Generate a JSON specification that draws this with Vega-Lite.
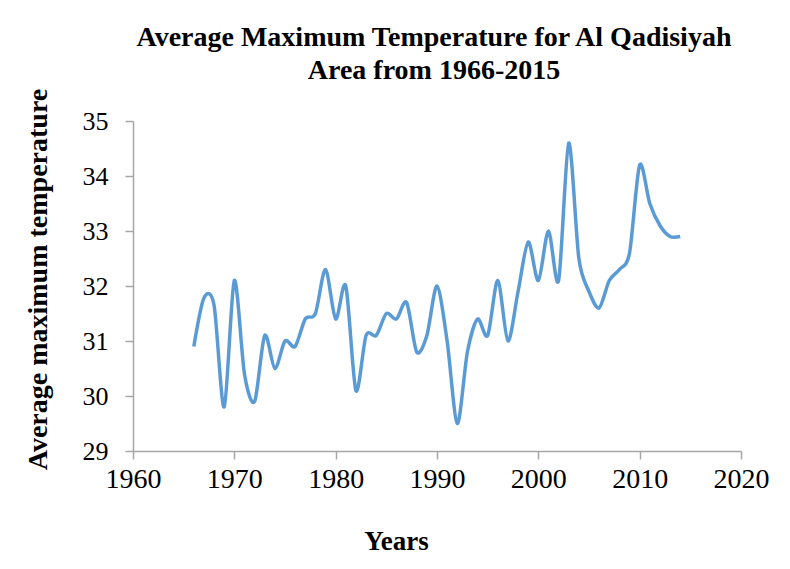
{
  "$schema": "https://vega.github.io/schema/vega-lite/v6.json",
  "width": 608,
  "height": 330,
  "autosize": {"type": "none"},
  "padding": {"left": 133, "top": 121, "right": 49, "bottom": 118},
  "background": "white",
  "title": {
    "text": ["Average Maximum Temperature for Al Qadisiyah", "Area from 1966-2015"],
    "anchor": "middle",
    "frame": "group",
    "font": "Liberation Serif",
    "fontSize": 28,
    "fontWeight": "bold",
    "color": "black",
    "lineHeight": 33,
    "offset": 3,
    "dx": -3
  },
  "config": {
    "view": {"stroke": null},
    "axis": {
      "grid": false,
      "domainColor": "#A6A6A6",
      "tickColor": "#A6A6A6",
      "domainWidth": 1.5,
      "tickWidth": 1.5,
      "tickSize": 8,
      "labelFlush": false,
      "labelColor": "black",
      "labelFont": "Liberation Serif",
      "titleFont": "Liberation Serif",
      "titleFontWeight": "bold",
      "titleColor": "black"
    }
  },
  "data": {
    "values": [
      {"year": 1966, "temp": 30.9},
      {"year": 1967, "temp": 31.78},
      {"year": 1968, "temp": 31.65},
      {"year": 1969, "temp": 29.8},
      {"year": 1970, "temp": 32.1},
      {"year": 1971, "temp": 30.4},
      {"year": 1972, "temp": 29.9},
      {"year": 1973, "temp": 31.1},
      {"year": 1974, "temp": 30.5},
      {"year": 1975, "temp": 31.0},
      {"year": 1976, "temp": 30.9},
      {"year": 1977, "temp": 31.4},
      {"year": 1978, "temp": 31.5},
      {"year": 1979, "temp": 32.3},
      {"year": 1980, "temp": 31.4},
      {"year": 1981, "temp": 32.0},
      {"year": 1982, "temp": 30.1},
      {"year": 1983, "temp": 31.1},
      {"year": 1984, "temp": 31.1},
      {"year": 1985, "temp": 31.5},
      {"year": 1986, "temp": 31.4},
      {"year": 1987, "temp": 31.7},
      {"year": 1988, "temp": 30.8},
      {"year": 1989, "temp": 31.1},
      {"year": 1990, "temp": 32.0},
      {"year": 1991, "temp": 31.0},
      {"year": 1992, "temp": 29.5},
      {"year": 1993, "temp": 30.8},
      {"year": 1994, "temp": 31.4},
      {"year": 1995, "temp": 31.1},
      {"year": 1996, "temp": 32.1},
      {"year": 1997, "temp": 31.0},
      {"year": 1998, "temp": 31.9},
      {"year": 1999, "temp": 32.8},
      {"year": 2000, "temp": 32.1},
      {"year": 2001, "temp": 33.0},
      {"year": 2002, "temp": 32.1},
      {"year": 2003, "temp": 34.6},
      {"year": 2004, "temp": 32.5},
      {"year": 2005, "temp": 31.9},
      {"year": 2006, "temp": 31.6},
      {"year": 2007, "temp": 32.1},
      {"year": 2008, "temp": 32.3},
      {"year": 2009, "temp": 32.6},
      {"year": 2010, "temp": 34.2},
      {"year": 2011, "temp": 33.5},
      {"year": 2012, "temp": 33.1},
      {"year": 2013, "temp": 32.9},
      {"year": 2014, "temp": 32.9}
    ]
  },
  "mark": {"type": "line", "interpolate": "cardinal", "tension": 0.15, "color": "#5B9BD5", "strokeWidth": 3.5, "clip": false},
  "encoding": {
    "x": {
      "field": "year",
      "type": "quantitative",
      "scale": {"domain": [1960, 2020], "nice": false, "zero": false},
      "axis": {
        "values": [1960, 1970, 1980, 1990, 2000, 2010, 2020],
        "format": "d",
        "labelFontSize": 28,
        "labelPadding": 6,
        "title": "Years",
        "titleFontSize": 27,
        "titleX": 263,
        "titleY": 98,
        "titleBaseline": "alphabetic",
        "titleAlign": "center"
      }
    },
    "y": {
      "field": "temp",
      "type": "quantitative",
      "scale": {"domain": [29, 35], "nice": false, "zero": false},
      "axis": {
        "values": [29, 30, 31, 32, 33, 34, 35],
        "labelFontSize": 26,
        "labelPadding": 17,
        "title": "Average maximum temperature",
        "titleFontSize": 28,
        "titleX": -95,
        "titleY": 158,
        "titleBaseline": "middle",
        "titleAlign": "center",
        "titleAngle": -90
      }
    }
  }
}
